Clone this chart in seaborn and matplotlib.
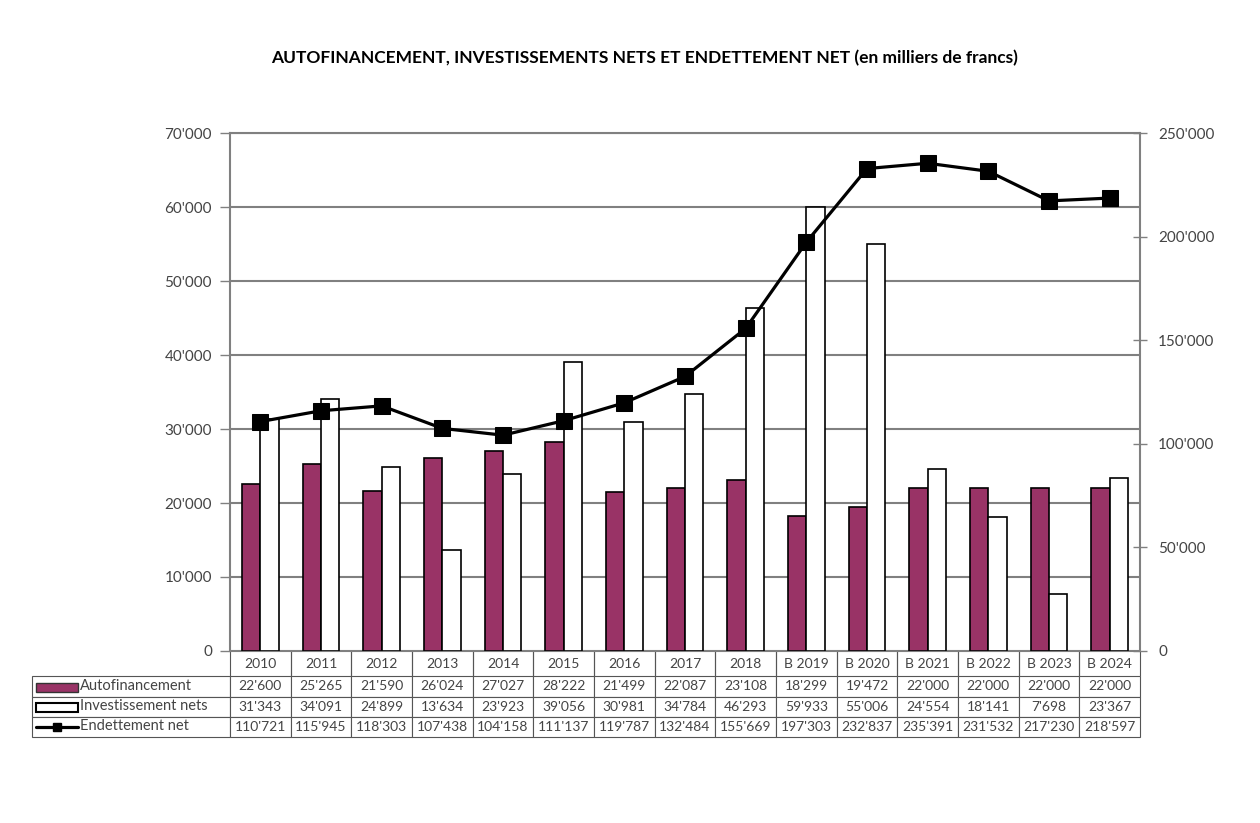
import numpy as np
import pandas as pd
import matplotlib
matplotlib.use("Agg")
import matplotlib.pyplot as plt
import seaborn as sns
from matplotlib.patches import Rectangle
from matplotlib.lines import Line2D
from matplotlib.ticker import FuncFormatter

# Data (thousands of francs)
years = ["2010", "2011", "2012", "2013", "2014", "2015", "2016", "2017", "2018",
         "B 2019", "B 2020", "B 2021", "B 2022", "B 2023", "B 2024"]
autofinancement = [22600, 25265, 21590, 26024, 27027, 28222, 21499, 22087, 23108,
                   18299, 19472, 22000, 22000, 22000, 22000]
investissements = [31343, 34091, 24899, 13634, 23923, 39056, 30981, 34784, 46293,
                   59933, 55006, 24554, 18141, 7698, 23367]
endettement = [110721, 115945, 118303, 107438, 104158, 111137, 119787, 132484, 155669,
               197303, 232837, 235391, 231532, 217230, 218597]
row_labels = ["Autofinancement", "Investissement nets", "Endettement net"]

MAROON = "#993366"
GREY = "#808080"
TXT = "#444444"

sns.set_style("white")
plt.rcParams["font.family"] = ["Lato", "DejaVu Sans"]


def fmt(v):
    return f"{int(v):,}".replace(",", "'")


df = pd.DataFrame({"annee": years * 2,
                   "valeur": autofinancement + investissements,
                   "serie": [row_labels[0]] * 15 + [row_labels[1]] * 15})

fig = plt.figure(figsize=(12.6, 8.23), dpi=100)
ax = fig.add_axes([230 / 1260, 1 - 651 / 823, 910 / 1260, 518 / 823])

sns.barplot(data=df, x="annee", y="valeur", hue="serie", ax=ax,
            palette=[MAROON, "white"], width=0.6, edgecolor="black",
            linewidth=1.2, legend=False, saturation=1)
ax.set_xlim(-0.5, 14.5)
ax.set_ylim(0, 70000)
ax.set_yticks(np.arange(0, 70001, 10000))
ax.yaxis.set_major_formatter(FuncFormatter(lambda v, p: fmt(v)))
ax.yaxis.grid(True, color=GREY, linewidth=1.5)
ax.set_axisbelow(True)
ax.set_xlabel("")
ax.set_ylabel("")
ax.set_xticks([])
ax.tick_params(axis="y", left=True, length=7, width=1, color=GREY,
               labelsize=11, labelcolor=TXT, pad=6)
for s in ["left", "right"]:
    ax.spines[s].set_color(GREY)
    ax.spines[s].set_linewidth(1.5)
ax.spines["top"].set_color(GREY)
ax.spines["top"].set_linewidth(1.5)
ax.spines["bottom"].set_color(GREY)

ax2 = ax.twinx()
sns.lineplot(x=np.arange(15), y=endettement, ax=ax2, color="black", linewidth=2.3,
             marker="s", markersize=11, markeredgecolor="black")
ax2.set_ylim(0, 250000)
ax2.set_yticks(np.arange(0, 250001, 50000))
ax2.yaxis.set_major_formatter(FuncFormatter(lambda v, p: fmt(v)))
ax2.tick_params(axis="y", right=True, direction="inout", length=10, width=1,
                color=GREY, labelsize=11, labelcolor=TXT, pad=8)
for s in ax2.spines.values():
    s.set_visible(False)
ax2.set_xlim(-0.5, 14.5)

# data table under the chart
cell_text = [[""] + [fmt(v) for v in autofinancement],
             [""] + [fmt(v) for v in investissements],
             [""] + [fmt(v) for v in endettement]]
first_w = 198 / 1108
col_w = [first_w] + [(910 / 15) / 1108] * 15
tab = ax.table(cellText=cell_text, colLabels=[""] + years, colWidths=col_w,
               cellLoc="center", bbox=[-198 / 910, -86 / 518, 1108 / 910, 86 / 518])
tab.auto_set_font_size(False)
tab.set_fontsize(10)
for (r, c), cell in tab.get_celld().items():
    cell.set_edgecolor("#555555")
    cell.set_linewidth(0.8)
    cell.get_text().set_color(TXT)
    cell.set_height(25 if r == 0 else 20)
    if r == 0:
        cell.visible_edges = "LR" if c > 0 else ""

# legend swatches and row labels
y_rows = [(651 + 25 + 10 + 20 * i) for i in range(3)]
for i, lab in enumerate(row_labels):
    yc = 1 - y_rows[i] / 823
    fig.text(80 / 1260, yc, lab, ha="left", va="center", fontsize=10.5, color=TXT)
fig.patches.append(Rectangle((36 / 1260, 1 - 692 / 823), 42 / 1260, 9 / 823,
                             facecolor=MAROON, edgecolor="#333333", linewidth=1,
                             transform=fig.transFigure, figure=fig))
fig.patches.append(Rectangle((36 / 1260, 1 - 712 / 823), 42 / 1260, 9 / 823,
                             facecolor="white", edgecolor="black", linewidth=1.5,
                             transform=fig.transFigure, figure=fig))
fig.lines.append(Line2D([36 / 1260, 78 / 1260], [1 - 727 / 823] * 2, color="black",
                        linewidth=2.3, marker=None, transform=fig.transFigure, figure=fig))
fig.lines.append(Line2D([57 / 1260], [1 - 727 / 823], color="black", marker="s",
                        markersize=6, transform=fig.transFigure, figure=fig))

fig.text(645 / 1260, 1 - 58 / 823,
         "AUTOFINANCEMENT, INVESTISSEMENTS NETS ET ENDETTEMENT NET (en milliers de francs)",
         ha="center", va="center", fontsize=12.5, fontweight="bold", color="black")

fig.savefig("out.png", dpi=100, facecolor="white")
